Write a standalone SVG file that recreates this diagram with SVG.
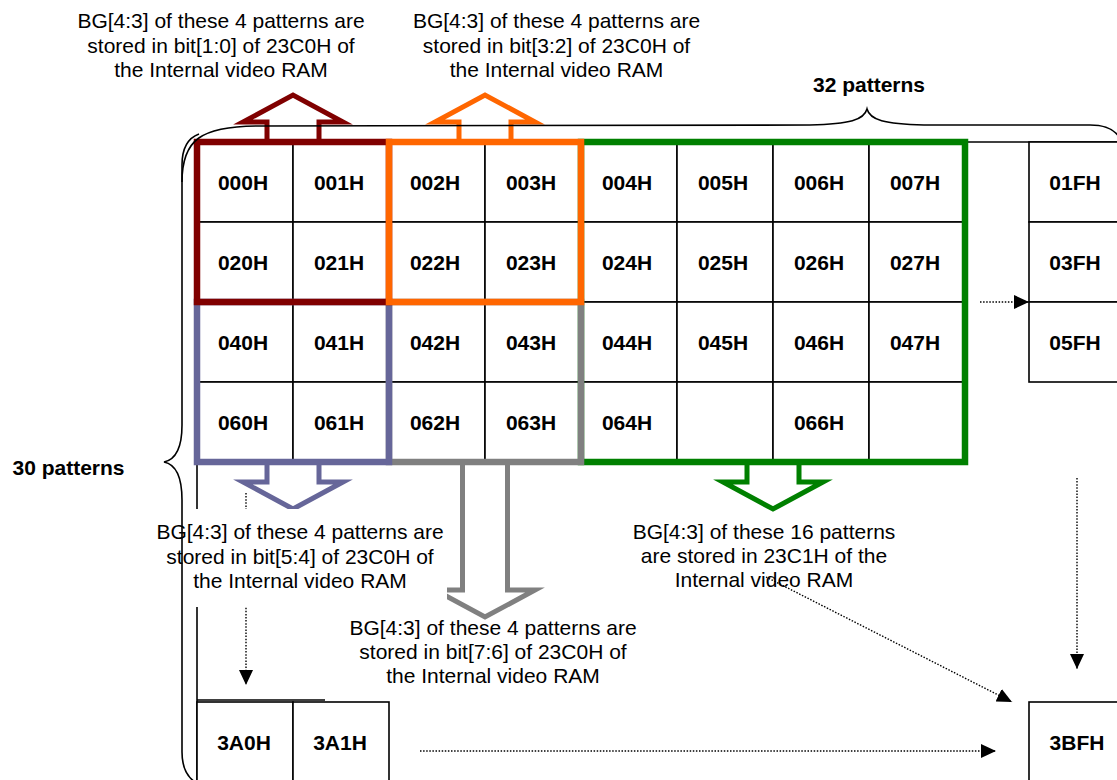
<svg xmlns="http://www.w3.org/2000/svg" width="1117" height="780" viewBox="0 0 1117 780">
<style>
.cell{fill:#fff;stroke:#000;stroke-width:1.6}
.ln{fill:none;stroke:#000;stroke-width:1.6}
.ct{font-family:"Liberation Sans",Arial,sans-serif;font-size:21px;font-weight:bold;text-anchor:middle;fill:#000}
.lbl{font-family:"Liberation Sans",Arial,sans-serif;font-size:21px;text-anchor:middle;fill:#000}
.brace{fill:none;stroke:#000;stroke-width:1.6}
.dot{fill:none;stroke:#000;stroke-width:1.4;stroke-dasharray:1.5 1.6}
.grp{fill:none;stroke-width:6.5}
.arr{fill:none;stroke-width:5;stroke-linejoin:miter;stroke-miterlimit:10}
</style>
<defs>
<marker id="ah" viewBox="0 0 15 14" refX="15" refY="7" markerWidth="15" markerHeight="14" markerUnits="userSpaceOnUse" orient="auto"><path d="M0,0 L15,7 L0,14 Z" fill="#000"/></marker>
</defs>
<rect width="1117" height="780" fill="#fff"/>

<g id="frame-lines">
<line class="ln" x1="965" y1="142" x2="1117" y2="142"/>
<line class="ln" x1="197" y1="462" x2="197" y2="780"/>
<line class="ln" x1="197" y1="700" x2="325" y2="700"/>
</g>

<g id="grid">
<g id="cell-000H"><rect class="cell" x="197" y="142" width="96" height="80"/><text class="ct" x="243" y="189.5">000H</text></g>
<g id="cell-001H"><rect class="cell" x="293" y="142" width="96" height="80"/><text class="ct" x="339" y="189.5">001H</text></g>
<g id="cell-002H"><rect class="cell" x="389" y="142" width="96" height="80"/><text class="ct" x="435" y="189.5">002H</text></g>
<g id="cell-003H"><rect class="cell" x="485" y="142" width="96" height="80"/><text class="ct" x="531" y="189.5">003H</text></g>
<g id="cell-004H"><rect class="cell" x="581" y="142" width="96" height="80"/><text class="ct" x="627" y="189.5">004H</text></g>
<g id="cell-005H"><rect class="cell" x="677" y="142" width="96" height="80"/><text class="ct" x="723" y="189.5">005H</text></g>
<g id="cell-006H"><rect class="cell" x="773" y="142" width="96" height="80"/><text class="ct" x="819" y="189.5">006H</text></g>
<g id="cell-007H"><rect class="cell" x="869" y="142" width="96" height="80"/><text class="ct" x="915" y="189.5">007H</text></g>

<g id="cell-020H"><rect class="cell" x="197" y="222" width="96" height="80"/><text class="ct" x="243" y="269.5">020H</text></g>
<g id="cell-021H"><rect class="cell" x="293" y="222" width="96" height="80"/><text class="ct" x="339" y="269.5">021H</text></g>
<g id="cell-022H"><rect class="cell" x="389" y="222" width="96" height="80"/><text class="ct" x="435" y="269.5">022H</text></g>
<g id="cell-023H"><rect class="cell" x="485" y="222" width="96" height="80"/><text class="ct" x="531" y="269.5">023H</text></g>
<g id="cell-024H"><rect class="cell" x="581" y="222" width="96" height="80"/><text class="ct" x="627" y="269.5">024H</text></g>
<g id="cell-025H"><rect class="cell" x="677" y="222" width="96" height="80"/><text class="ct" x="723" y="269.5">025H</text></g>
<g id="cell-026H"><rect class="cell" x="773" y="222" width="96" height="80"/><text class="ct" x="819" y="269.5">026H</text></g>
<g id="cell-027H"><rect class="cell" x="869" y="222" width="96" height="80"/><text class="ct" x="915" y="269.5">027H</text></g>

<g id="cell-040H"><rect class="cell" x="197" y="302" width="96" height="80"/><text class="ct" x="243" y="349.5">040H</text></g>
<g id="cell-041H"><rect class="cell" x="293" y="302" width="96" height="80"/><text class="ct" x="339" y="349.5">041H</text></g>
<g id="cell-042H"><rect class="cell" x="389" y="302" width="96" height="80"/><text class="ct" x="435" y="349.5">042H</text></g>
<g id="cell-043H"><rect class="cell" x="485" y="302" width="96" height="80"/><text class="ct" x="531" y="349.5">043H</text></g>
<g id="cell-044H"><rect class="cell" x="581" y="302" width="96" height="80"/><text class="ct" x="627" y="349.5">044H</text></g>
<g id="cell-045H"><rect class="cell" x="677" y="302" width="96" height="80"/><text class="ct" x="723" y="349.5">045H</text></g>
<g id="cell-046H"><rect class="cell" x="773" y="302" width="96" height="80"/><text class="ct" x="819" y="349.5">046H</text></g>
<g id="cell-047H"><rect class="cell" x="869" y="302" width="96" height="80"/><text class="ct" x="915" y="349.5">047H</text></g>

<g id="cell-060H"><rect class="cell" x="197" y="382" width="96" height="80"/><text class="ct" x="243" y="429.5">060H</text></g>
<g id="cell-061H"><rect class="cell" x="293" y="382" width="96" height="80"/><text class="ct" x="339" y="429.5">061H</text></g>
<g id="cell-062H"><rect class="cell" x="389" y="382" width="96" height="80"/><text class="ct" x="435" y="429.5">062H</text></g>
<g id="cell-063H"><rect class="cell" x="485" y="382" width="96" height="80"/><text class="ct" x="531" y="429.5">063H</text></g>
<g id="cell-064H"><rect class="cell" x="581" y="382" width="96" height="80"/><text class="ct" x="627" y="429.5">064H</text></g>
<g id="cell-065"><rect class="cell" x="677" y="382" width="96" height="80"/></g>
<g id="cell-066H"><rect class="cell" x="773" y="382" width="96" height="80"/><text class="ct" x="819" y="429.5">066H</text></g>
<g id="cell-067"><rect class="cell" x="869" y="382" width="96" height="80"/></g>

<g id="cell-01FH"><rect class="cell" x="1029" y="142" width="96" height="80"/><text class="ct" x="1075" y="189.5">01FH</text></g>
<g id="cell-03FH"><rect class="cell" x="1029" y="222" width="96" height="80"/><text class="ct" x="1075" y="269.5">03FH</text></g>
<g id="cell-05FH"><rect class="cell" x="1029" y="302" width="96" height="80"/><text class="ct" x="1075" y="349.5">05FH</text></g>

<g id="cell-3A0H"><rect class="cell" x="197" y="702" width="96" height="90"/><text class="ct" x="244" y="749.5">3A0H</text></g>
<g id="cell-3A1H"><rect class="cell" x="293" y="702" width="96" height="90"/><text class="ct" x="340" y="749.5">3A1H</text></g>
<g id="cell-3BFH"><rect class="cell" x="1029" y="702" width="96" height="90"/><text class="ct" x="1077" y="749.5">3BFH</text></g>
</g>

<g id="groups">
<rect id="group-green" class="grp" stroke="#008000" x="581" y="142" width="384" height="320"/>
<rect id="group-gray" class="grp" stroke="#808080" x="389" y="302" width="192" height="160"/>
<rect id="group-blue" class="grp" stroke="#666699" x="197" y="302" width="192" height="160"/>
<rect id="group-maroon" class="grp" stroke="#800000" x="197" y="142" width="192" height="160"/>
<rect id="group-orange" class="grp" stroke="#FF6600" x="389" y="142" width="192" height="160"/>
</g>

<g id="connectors">
<polyline class="arr" stroke="#800000" points="267,139 267,122 243,122 293,95 343,122 319,122 319,139"/>
<polyline class="arr" stroke="#FF6600" points="459,139 459,122 435,122 485,95 535,122 511,122 511,139"/>
<polyline class="arr" stroke="#666699" points="267,465 267,482 243,482 293,509 343,482 319,482 319,465"/>
<polyline class="arr" stroke="#808080" points="462.5,465 462.5,590 435,590 485,617 535,590 507.5,590 507.5,465"/>
<polyline class="arr" stroke="#008000" points="747,465 747,482 723,482 773,509 823,482 799,482 799,465"/>

<path class="dot" d="M420,751 L996,751" marker-end="url(#ah)"/>
<path class="dot" d="M246,493 L246,685" marker-end="url(#ah)"/>
<path class="dot" d="M1077,478 L1077,669" marker-end="url(#ah)"/>
<path class="dot" d="M766,577 L1012,702" marker-end="url(#ah)"/>
<path class="dot" d="M980,302 L1029,302" marker-end="url(#ah)"/>
</g>

<g id="labels">
<g id="label-maroon">
<text class="lbl" x="221" y="27.5">BG[4:3] of these 4 patterns are</text>
<text class="lbl" x="221" y="52.5">stored in bit[1:0] of 23C0H of</text>
<text class="lbl" x="221" y="77">the Internal video RAM</text>
</g>
<g id="label-orange">
<text class="lbl" x="556.5" y="27.5">BG[4:3] of these 4 patterns are</text>
<text class="lbl" x="556.5" y="52.5">stored in bit[3:2] of 23C0H of</text>
<text class="lbl" x="556.5" y="77">the Internal video RAM</text>
</g>
<g id="label-blue">
<rect x="153" y="509" width="294" height="98" fill="#fff"/>
<text class="lbl" x="300" y="539">BG[4:3] of these 4 patterns are</text>
<text class="lbl" x="300" y="564">stored in bit[5:4] of 23C0H of</text>
<text class="lbl" x="300" y="588">the Internal video RAM</text>
</g>
<g id="label-gray">
<text class="lbl" x="493" y="635">BG[4:3] of these 4 patterns are</text>
<text class="lbl" x="493" y="659">stored in bit[7:6] of 23C0H of</text>
<text class="lbl" x="493" y="683">the Internal video RAM</text>
</g>
<g id="label-green">
<text class="lbl" x="764" y="539">BG[4:3] of these 16 patterns</text>
<text class="lbl" x="764" y="563">are stored in 23C1H of the</text>
<text class="lbl" x="764" y="587">Internal video RAM</text>
</g>
</g>

<g id="brace-top">
<path class="brace" d="M182,182 C182,140 200,126 260,126 L810,125 C850,124 864,120 867,109 C870,120 884,124 924,125 L1090,125 C1105,125 1114,129 1119,137"/>
<text class="ct" x="869" y="92">32 patterns</text>
</g>
<g id="brace-left">
<path class="brace" d="M199,134 C188,138 182,148 182,165 L182,425 C182,450 174,460 164,462 C174,464 182,474 182,500 L182,752 C182,767 186,776 195,782"/>
<text class="ct" x="68.5" y="475">30 patterns</text>
</g>
</svg>
